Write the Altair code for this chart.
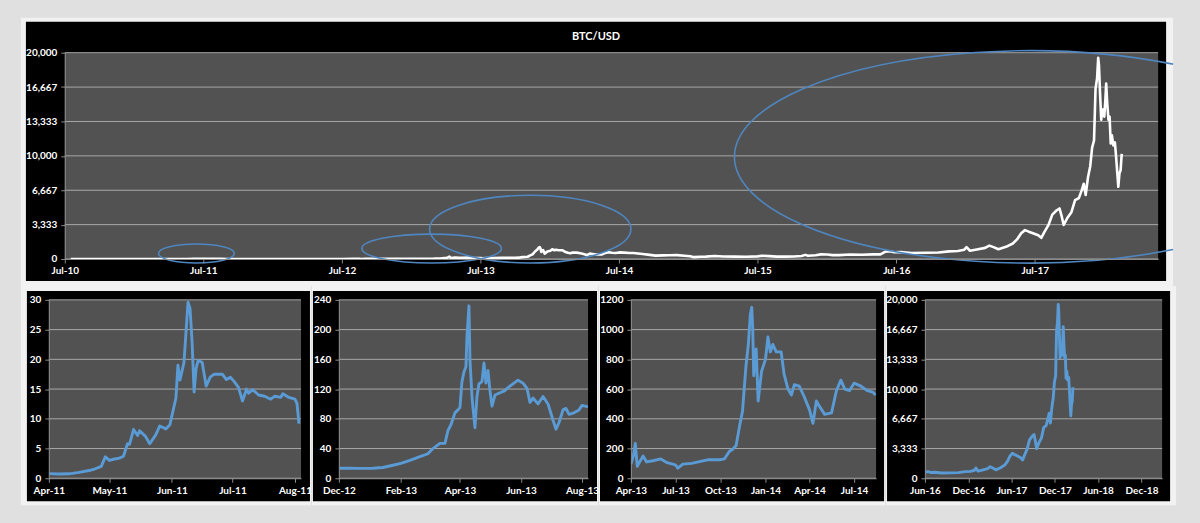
import altair as alt
import pandas as pd

# ---------------- data ----------------
early_dates = ["2010-07-17", "2010-08-01", "2010-09-01", "2010-10-01", "2010-11-01",
               "2010-12-01", "2011-01-01", "2011-02-01", "2011-03-01", "2011-03-20"]
early_vals = [0.05, 0.07, 0.06, 0.1, 0.25, 0.23, 0.3, 0.9, 0.9, 0.85]

p1_dates = ["2011-04-01", "2011-04-06", "2011-04-11", "2011-04-16", "2011-04-21", "2011-04-24",
            "2011-04-27", "2011-04-29", "2011-05-01", "2011-05-03", "2011-05-06", "2011-05-08",
            "2011-05-10", "2011-05-11", "2011-05-13", "2011-05-15", "2011-05-16", "2011-05-19",
            "2011-05-21", "2011-05-24", "2011-05-26", "2011-05-29", "2011-05-31", "2011-06-01",
            "2011-06-03", "2011-06-04", "2011-06-05", "2011-06-07", "2011-06-09", "2011-06-10",
            "2011-06-11", "2011-06-12", "2011-06-13", "2011-06-14", "2011-06-16", "2011-06-18",
            "2011-06-20", "2011-06-22", "2011-06-26", "2011-06-28", "2011-06-30", "2011-07-02",
            "2011-07-04", "2011-07-06", "2011-07-08", "2011-07-09", "2011-07-11", "2011-07-14",
            "2011-07-17", "2011-07-20", "2011-07-22", "2011-07-25", "2011-07-26", "2011-07-29",
            "2011-08-01", "2011-08-02", "2011-08-03"]
p1_vals = [0.78, 0.72, 0.75, 1.0, 1.3, 1.6,
           2.0, 3.6, 3.0, 3.2, 3.4, 3.7,
           5.8, 5.7, 8.2, 7.2, 8.0, 7.0,
           5.8, 7.3, 8.8, 8.3, 9.0, 10.5,
           13.5, 19.0, 16.5, 19.5, 29.6, 28.5,
           23.0, 14.5, 18.5, 19.8, 19.5, 15.5,
           17.0, 17.5, 17.5, 16.6, 17.0, 16.2,
           15.3, 13.0, 15.0, 14.3, 14.9, 14.0,
           13.8, 13.3, 13.8, 13.6, 14.2, 13.6,
           13.3, 12.6, 9.2]

mid_dates = ["2011-08-15", "2011-09-01", "2011-09-15", "2011-10-01", "2011-10-20", "2011-11-15",
             "2011-12-01", "2011-12-20", "2012-01-08", "2012-01-25", "2012-02-15", "2012-03-01",
             "2012-04-01", "2012-05-01", "2012-06-01", "2012-07-01", "2012-08-01", "2012-08-16",
             "2012-08-20", "2012-09-01", "2012-10-01", "2012-11-01", "2012-11-15"]
mid_vals = [11, 8.2, 5.6, 5.0, 2.3, 2.5,
            3.0, 3.9, 7.0, 5.8, 4.4, 4.9,
            4.9, 5.0, 5.3, 6.7, 9.3, 13.3,
            8.0, 10.2, 12.4, 10.7, 11.3]

p2_dates = ["2012-12-01", "2012-12-12", "2012-12-22", "2013-01-04", "2013-01-14", "2013-01-24",
            "2013-02-01", "2013-02-10", "2013-02-20", "2013-02-28", "2013-03-05", "2013-03-12",
            "2013-03-17", "2013-03-20", "2013-03-23", "2013-03-27", "2013-03-30", "2013-04-01",
            "2013-04-03", "2013-04-05", "2013-04-07", "2013-04-08", "2013-04-10", "2013-04-11",
            "2013-04-13", "2013-04-14", "2013-04-16", "2013-04-18", "2013-04-20", "2013-04-23",
            "2013-04-25", "2013-04-27", "2013-04-29", "2013-05-01", "2013-05-03", "2013-05-06",
            "2013-05-11", "2013-05-16", "2013-05-19", "2013-05-24", "2013-05-29", "2013-06-03",
            "2013-06-07", "2013-06-10", "2013-06-13", "2013-06-18", "2013-06-23", "2013-06-28",
            "2013-07-03", "2013-07-06", "2013-07-09", "2013-07-13", "2013-07-16", "2013-07-19",
            "2013-07-24", "2013-07-29", "2013-08-01", "2013-08-07"]
p2_vals = [13.5, 13.5, 13.3, 13.5, 14.5, 17.5,
           20, 24, 29, 33, 40, 47,
           47, 64, 72, 88, 92, 95,
           130, 143, 150, 190, 232, 160,
           110, 95, 68, 110, 127, 130,
           155, 128, 145, 118, 97, 112,
           115, 118, 122, 127, 132, 128,
           121, 102, 108, 100, 110, 100,
           78, 66, 75, 92, 94, 86,
           88, 92, 98, 96]

p3_dates = ["2013-04-01", "2013-04-06", "2013-04-10", "2013-04-14", "2013-04-19", "2013-04-26",
            "2013-05-03", "2013-05-16", "2013-06-01", "2013-06-14", "2013-07-01", "2013-07-06",
            "2013-07-16", "2013-08-03", "2013-08-24", "2013-09-07", "2013-10-01", "2013-10-09",
            "2013-10-19", "2013-10-26", "2013-11-02", "2013-11-09", "2013-11-15", "2013-11-22",
            "2013-11-27", "2013-12-01", "2013-12-04", "2013-12-06", "2013-12-08", "2013-12-13",
            "2013-12-17", "2013-12-24", "2014-01-01", "2014-01-06", "2014-01-11", "2014-01-16",
            "2014-01-23", "2014-02-02", "2014-02-08", "2014-02-16", "2014-02-23", "2014-03-01",
            "2014-03-11", "2014-03-21", "2014-04-01", "2014-04-08", "2014-04-15", "2014-04-22",
            "2014-05-02", "2014-05-16", "2014-05-26", "2014-06-04", "2014-06-12", "2014-06-22",
            "2014-07-01", "2014-07-15", "2014-07-28", "2014-08-08", "2014-08-14"]
p3_vals = [95, 150, 235, 80, 110, 150,
           110, 118, 130, 105, 90, 68,
           95, 100, 115, 125, 125, 130,
           180, 195, 220, 350, 450, 750,
           900, 1100, 1150, 1000, 690, 870,
           520, 720, 800, 950, 850, 900,
           850, 850, 700, 600, 560, 630,
           620, 550, 460, 370, 520, 480,
           430, 440, 590, 660, 600, 590,
           640, 620, 590, 580, 560]

late_dates = ["2014-09-01", "2014-09-20", "2014-10-05", "2014-10-25", "2014-11-10", "2014-12-01",
              "2014-12-20", "2015-01-05", "2015-01-14", "2015-02-01", "2015-02-15", "2015-03-10",
              "2015-04-01", "2015-05-01", "2015-06-01", "2015-07-01", "2015-07-12", "2015-08-01",
              "2015-08-20", "2015-09-15", "2015-10-05", "2015-10-25", "2015-11-04", "2015-11-11",
              "2015-12-01", "2015-12-15", "2016-01-01", "2016-01-15", "2016-02-01", "2016-03-01",
              "2016-04-01", "2016-05-01", "2016-05-20"]
late_vals = [480, 400, 330, 355, 370, 380,
             320, 275, 180, 225, 235, 290,
             245, 235, 225, 258, 310, 280,
             230, 230, 240, 290, 400, 310,
             360, 450, 430, 380, 375, 430,
             415, 450, 450]

p4_dates = ["2016-06-01", "2016-06-15", "2016-06-25", "2016-07-13", "2016-08-10", "2016-09-15",
            "2016-10-20", "2016-11-17", "2016-12-10", "2016-12-27", "2017-01-02", "2017-01-11",
            "2017-01-29", "2017-02-20", "2017-03-03", "2017-03-14", "2017-03-27", "2017-04-16",
            "2017-05-04", "2017-05-15", "2017-05-26", "2017-06-05", "2017-06-15", "2017-06-26",
            "2017-07-10", "2017-07-18", "2017-07-26", "2017-08-06", "2017-08-16", "2017-08-27",
            "2017-09-04", "2017-09-10", "2017-09-15", "2017-09-25", "2017-10-05", "2017-10-15",
            "2017-10-25", "2017-11-01", "2017-11-07", "2017-11-12", "2017-11-18", "2017-11-24",
            "2017-11-29", "2017-12-04", "2017-12-08", "2017-12-12", "2017-12-15", "2017-12-17",
            "2017-12-20", "2017-12-23", "2017-12-25", "2017-12-28", "2017-12-31", "2018-01-03",
            "2018-01-05", "2018-01-08", "2018-01-11", "2018-01-14", "2018-01-17", "2018-01-20",
            "2018-01-24", "2018-01-28", "2018-01-31", "2018-02-03", "2018-02-06", "2018-02-09",
            "2018-02-12", "2018-02-15"]
p4_vals = [700, 750, 650, 680, 590, 610,
           630, 740, 770, 900, 1150, 800,
           920, 1080, 1300, 1150, 950, 1180,
           1500, 1900, 2500, 2800, 2650, 2500,
           2300, 2050, 2600, 3300, 4300, 4700,
           4900, 4100, 3300, 4000, 4500, 5700,
           5900, 6600, 7300, 6200, 7900, 9000,
           10800, 11500, 16500, 17500, 19500, 18800,
           16000, 13500, 14200, 14500, 13800, 15500,
           17000, 15000, 13500, 13800, 11200, 12000,
           11000, 11300, 10000, 8500, 7000, 8300,
           8600, 10200]

# annotation ellipses on the top chart (centre date, centre price)
ell_dates = ["2011-06-13", "2013-02-22", "2013-11-09", "2017-06-17"]
ell_vals = [531, 1014, 2898, 9902]

top_yticks = [0, 3333.33, 6666.67, 10000, 13333.33, 16666.67, 20000]
p1_yticks = [0, 5, 10, 15, 20, 25, 30]
p2_yticks = [0, 40, 80, 120, 160, 200, 240]
p3_yticks = [0, 200, 400, 600, 800, 1000, 1200]
p4_yticks = top_yticks

top_xticks = ["2010-07-01", "2011-07-01", "2012-07-01", "2013-07-01", "2014-07-01",
              "2015-07-01", "2016-07-01", "2017-07-01"]
p1_xticks = ["2011-04-01", "2011-05-01", "2011-06-01", "2011-07-01", "2011-08-01"]
p2_xticks = ["2012-12-01", "2013-02-01", "2013-04-01", "2013-06-01", "2013-08-01"]
p3_xticks = ["2013-04-01", "2013-07-01", "2013-10-01", "2014-01-01", "2014-04-01", "2014-07-01"]
p4_xticks = ["2016-06-01", "2016-12-01", "2017-06-01", "2017-12-01", "2018-06-01", "2018-12-01"]

TITLE = "BTC/USD"

# ---------------- styling ----------------
BG = "#e0e0e0"
FRAME = "#f2f2f2"
PANEL = "#000000"
PLOT = "#525252"
GRID = "#a8a8a8"
AXISC = "#8c8c8c"
BLUE = "#5b9bd5"
ELL = "#4f86c0"
FONT = "Lato"
FS = 10


def frame(dates, vals):
    return pd.DataFrame({"date": pd.to_datetime(dates), "price": vals})


def dt(s):
    y, m, d = (int(p) for p in s.split("-"))
    return alt.DateTime(year=y, month=m, date=d)


one = pd.DataFrame({"k": [0]})


def box(color, x1, x2, y1, y2):
    return alt.Chart(one).mark_rect(color=color).encode(
        x=alt.value(x1), x2=alt.value(x2), y=alt.value(y1), y2=alt.value(y2))


def axis(values, fmt, pad, offset=0):
    return alt.Axis(values=values, format=fmt, labelColor="white", labelFont=FONT,
                    labelFontWeight="bold", labelFontSize=FS, labelFlush=False,
                    labelOverlap=False, tickColor=AXISC, tickSize=4, domainColor=AXISC,
                    grid=False, title=None, labelPadding=pad, zindex=1, offset=offset)


def panel(data, w, h, inset, xdom, xticks, xfmt, yticks, ymax, yfmt, color, lw,
          white, black, extra_pts=(), title_x=None):
    """w: plot width; inset: left gap between view origin and plot area."""
    vw = w + inset
    xs = alt.Scale(domain=[dt(xdom[0]), dt(xdom[1])], range=[inset, vw])
    ys = alt.Scale(domain=[0, ymax], nice=False, zero=True)
    xax = axis([dt(t) for t in xticks], xfmt, 3)
    yax = axis(yticks, yfmt, 4, offset=-inset)
    layers = [
        box(FRAME, white[0], white[1], white[2], h + white[3]),
        box(PANEL, black[0], black[1], black[2], h + black[3]),
        box(PLOT, inset, vw, 0, h),
        alt.Chart(pd.DataFrame({"price": yticks})).mark_rule(color=GRID, strokeWidth=1).encode(
            x=alt.value(inset), x2=alt.value(vw),
            y=alt.Y("price:Q", scale=ys, axis=yax)),
        alt.Chart(data).mark_line(color=color, strokeWidth=lw, strokeJoin="round", clip=True).encode(
            x=alt.X("date:T", scale=xs, axis=xax),
            y=alt.Y("price:Q", scale=ys, axis=yax),
        ),
    ]
    for df_e, shp, sz in extra_pts:
        layers.append(
            alt.Chart(df_e).mark_point(shape=shp, size=sz, filled=False, color=ELL,
                                       strokeWidth=1.6, opacity=1).encode(
                x=alt.X("date:T", scale=xs, axis=xax),
                y=alt.Y("price:Q", scale=ys, axis=yax)))
    if title_x is not None:
        layers.append(
            alt.Chart(pd.DataFrame({"t": [TITLE]})).mark_text(
                color="white", font=FONT, fontWeight="bold", fontSize=11,
                align="center", baseline="middle").encode(
                text="t:N", x=alt.value(title_x), y=alt.value(-16)))
    return alt.layer(*layers).properties(width=vw, height=h)


# ellipses: custom symbol paths (unit box scaled by sqrt(size)/2)
def ellipse_path(r):
    return f"M -1 0 A 1 {r:.4f} 0 1 0 1 0 A 1 {r:.4f} 0 1 0 -1 0 Z"


ell_styles = [
    (ellipse_path(9.5 / 38), (2 * 38) ** 2),
    (ellipse_path(14.5 / 70), (2 * 70) ** 2),
    (ellipse_path(34 / 101), (2 * 101) ** 2),
    ("M 0.4865 -0.3143 A 1 0.3598 0 1 0 0.4865 0.3143", (2 * 296) ** 2),
]
ell_pts = [(frame([d], [v]), shp, sz) for d, v, (shp, sz) in zip(ell_dates, ell_vals, ell_styles)]

# top series assembled from the segments
p2_df = frame(p2_dates, p2_vals)
top_df = pd.concat([
    frame(early_dates, early_vals),
    frame(p1_dates, p1_vals),
    frame(mid_dates, mid_vals),
    p2_df[p2_df["date"] < pd.Timestamp("2013-04-01")],
    frame(p3_dates, p3_vals),
    frame(late_dates, late_vals),
    frame(p4_dates, p4_vals),
], ignore_index=True)

# top: view starts at x=49 (aligned with the first lower panel); plot area starts 16px in
top = panel(top_df, 1097, 207, 16, ("2010-07-01", "2018-05-22"), top_xticks, "%b-%y",
            top_yticks, 20000, ",.0f", "white", 2.6,
            (-28, 1128, -35, 27), (-23, 1121, -31, 22), extra_pts=ell_pts, title_x=549)

c1 = panel(frame(p1_dates, p1_vals), 253, 179, 0, ("2011-04-01", "2011-08-04"), p1_xticks, "%b-%y",
           p1_yticks, 30, "d", BLUE, 2.9, (-28, 263, -14, 27), (-22, 262, -9, 23))
c2 = panel(p2_df, 250, 179, 0, ("2012-12-01", "2013-08-07"), p2_xticks, "%b-%y",
           p2_yticks, 240, "d", BLUE, 2.9, (-27, 260, -14, 27), (-26, 259, -9, 23))
c3 = panel(frame(p3_dates, p3_vals), 246, 179, 0, ("2013-04-01", "2014-08-15"), p3_xticks, "%b-%y",
           p3_yticks, 1200, "d", BLUE, 2.9, (-32, 255, -14, 27), (-31, 254, -9, 23))
c4 = panel(frame(p4_dates, p4_vals), 238, 179, 0, ("2016-06-01", "2019-02-26"), p4_xticks, "%b-%y",
           p4_yticks, 20000, ",.0f", BLUE, 2.9, (-39, 252, -14, 27), (-38, 246, -9, 23))

bottom = alt.hconcat(c1, c2, c3, c4, spacing=0)

chart = alt.vconcat(top, bottom, spacing=0).configure(
    background=BG,
    padding={"left": 21, "top": 17, "right": 23, "bottom": 17},
).configure_view(stroke=None)

chart.save("out.html", embed_options={"renderer": "svg", "actions": False})
